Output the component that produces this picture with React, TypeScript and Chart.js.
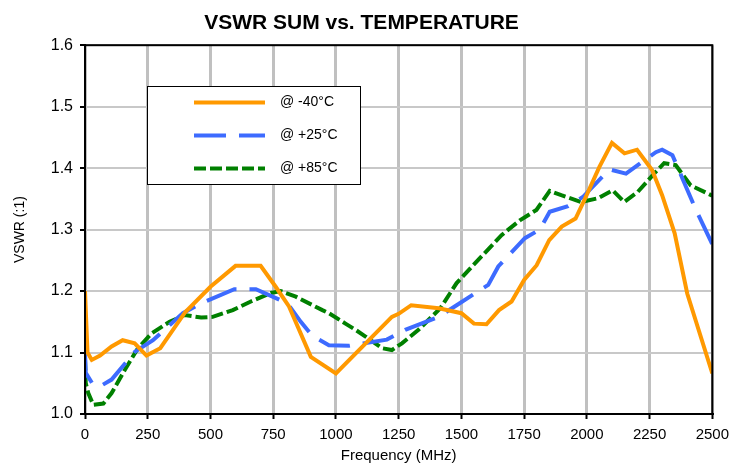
import React, { useEffect, useRef } from "react";
import { Chart, registerables } from "chart.js";
Chart.register(...registerables);

const TITLE = "VSWR SUM vs. TEMPERATURE";
const X_TITLE = "Frequency (MHz)";
const Y_TITLE = "VSWR (:1)";
const SERIES_LABELS = ["@ -40°C", "@ +25°C", "@ +85°C"];

const freqM40 = [0, 10, 27, 60, 106, 150, 198, 245, 300, 400, 500, 600, 700, 760, 813, 900, 1000, 1223, 1250, 1300, 1410, 1500, 1550, 1600, 1650, 1700, 1750, 1800, 1850, 1900, 1955, 1990, 2050, 2100, 2150, 2200, 2260, 2300, 2350, 2400, 2500];
const vswrM40 = [1.2, 1.1, 1.088, 1.095, 1.11, 1.12, 1.115, 1.095, 1.107, 1.166, 1.207, 1.241, 1.241, 1.207, 1.175, 1.093, 1.066, 1.158, 1.163, 1.177, 1.172, 1.164, 1.147, 1.146, 1.169, 1.183, 1.218, 1.242, 1.283, 1.305, 1.318, 1.348, 1.402, 1.441, 1.424, 1.43, 1.397, 1.356, 1.294, 1.196, 1.066];

const freqP25 = [0, 3, 33, 60, 106, 198, 271, 390, 463, 595, 681, 807, 860, 906, 972, 1052, 1203, 1276, 1409, 1481, 1607, 1647, 1753, 1812, 1852, 1925, 1984, 2090, 2156, 2275, 2300, 2341, 2401, 2434, 2500];
const vswrP25 = [1.1, 1.067, 1.047, 1.045, 1.056, 1.101, 1.12, 1.164, 1.18, 1.203, 1.203, 1.18, 1.15, 1.127, 1.112, 1.111, 1.121, 1.137, 1.158, 1.177, 1.21, 1.24, 1.286, 1.3, 1.329, 1.338, 1.353, 1.398, 1.391, 1.426, 1.43, 1.421, 1.364, 1.333, 1.276];

const freqP85 = [0, 3, 13, 33, 73, 106, 159, 211, 265, 337, 397, 463, 509, 589, 661, 741, 780, 840, 946, 972, 1038, 1078, 1118, 1184, 1223, 1263, 1329, 1416, 1481, 1554, 1660, 1733, 1799, 1852, 1898, 1977, 2044, 2103, 2149, 2202, 2268, 2308, 2354, 2388, 2414, 2480, 2500];
const vswrP85 = [1.09, 1.05, 1.034, 1.015, 1.017, 1.034, 1.072, 1.107, 1.131, 1.15, 1.161, 1.157, 1.158, 1.169, 1.183, 1.197, 1.2, 1.191, 1.169, 1.164, 1.147, 1.137, 1.126, 1.107, 1.104, 1.115, 1.137, 1.172, 1.213, 1.245, 1.291, 1.315, 1.332, 1.363, 1.356, 1.345, 1.351, 1.364, 1.345, 1.361, 1.391, 1.408, 1.405, 1.386, 1.372, 1.359, 1.355];

const X_MIN = 0, X_MAX = 2500, X_STEP = 250;
const Y_MIN = 1.0, Y_MAX = 1.6, Y_STEP = 0.1;

const COLORS = ["#FF9900", "#3D6BFF", "#008000"];
const DASHES: number[][] = [[], [32, 13], [12, 4]];

const FONT = "'Liberation Sans', Arial, sans-serif";

const toPts = (xs: number[], ys: number[]) => xs.map((x, i) => ({ x, y: ys[i] }));

const frameAndLegend = {
  id: "frameAndLegend",
  afterDatasetsDraw(chart: any) {
    const { ctx, chartArea } = chart;
    ctx.save();
    ctx.strokeStyle = "#000";
    ctx.lineWidth = 2;
    ctx.strokeRect(chartArea.left, chartArea.top, chartArea.right - chartArea.left, chartArea.bottom - chartArea.top);
    // legend box
    const bx = 147.5, by = 86.5, bw = 213, bh = 98;
    ctx.fillStyle = "#fff";
    ctx.fillRect(bx, by, bw, bh);
    ctx.lineWidth = 1;
    ctx.strokeRect(bx, by, bw, bh);
    const rows = [102.5, 135.5, 168.5];
    ctx.font = `14px ${FONT}`;
    ctx.textBaseline = "middle";
    rows.forEach((yy, i) => {
      ctx.beginPath();
      ctx.strokeStyle = COLORS[i];
      ctx.lineWidth = 4;
      ctx.setLineDash(DASHES[i]);
      ctx.moveTo(194, yy);
      ctx.lineTo(265, yy);
      ctx.stroke();
      ctx.setLineDash([]);
      ctx.fillStyle = "#000";
      ctx.fillText(SERIES_LABELS[i], 280, yy);
    });
    ctx.restore();
  },
};

export default function App() {
  const ref = useRef<HTMLCanvasElement>(null);
  useEffect(() => {
    document.body.style.margin = "0";
    const chart = new Chart(ref.current!, {
      type: "line",
      data: {
        datasets: [
          { label: SERIES_LABELS[0], data: toPts(freqM40, vswrM40), borderColor: COLORS[0], borderWidth: 4, borderDash: DASHES[0], pointRadius: 0, tension: 0, fill: false },
          { label: SERIES_LABELS[1], data: toPts(freqP25, vswrP25), borderColor: COLORS[1], borderWidth: 4, borderDash: DASHES[1], pointRadius: 0, tension: 0, fill: false },
          { label: SERIES_LABELS[2], data: toPts(freqP85, vswrP85), borderColor: COLORS[2], borderWidth: 4, borderDash: DASHES[2], pointRadius: 0, tension: 0, fill: false },
        ],
      },
      options: {
        animation: false,
        responsive: false,
        layout: { padding: { left: 8, right: 21, top: 0, bottom: 0 } },
        plugins: {
          legend: { display: false },
          tooltip: { enabled: false },
          title: {
            display: true,
            text: TITLE,
            color: "#000",
            font: { family: FONT, size: 21, weight: "bold", lineHeight: 1.2 },
            padding: { top: 11, bottom: 9 },
          },
        },
        scales: {
          x: {
            type: "linear",
            min: X_MIN,
            max: X_MAX,
            afterFit: (s: any) => { s.height = 52; },
            ticks: { stepSize: X_STEP, color: "#000", font: { family: FONT, size: 15 }, padding: 7, maxRotation: 0, callback: (v: any) => String(v) },
            grid: { color: "#C0C0C0", lineWidth: 3, tickColor: "#000", tickLength: 5, tickWidth: 2 },
            border: { color: "#000", width: 2 },
            title: { display: true, text: X_TITLE, color: "#000", font: { family: FONT, size: 15 }, padding: { top: 0, bottom: 1 } },
          },
          y: {
            type: "linear",
            min: Y_MIN,
            max: Y_MAX,
            afterFit: (s: any) => { s.width = 77; },
            ticks: { stepSize: Y_STEP, color: "#000", font: { family: FONT, size: 16 }, padding: 7, callback: (v: any) => Number(v).toFixed(1) },
            grid: { color: "#C8C8C8", lineWidth: 2, tickColor: "#000", tickLength: 5, tickWidth: 2 },
            border: { color: "#000", width: 2 },
            title: { display: true, text: Y_TITLE, color: "#000", font: { family: FONT, size: 14 }, padding: { top: 4, bottom: 0 } },
          },
        },
      },
      plugins: [frameAndLegend],
    });
    return () => chart.destroy();
  }, []);
  return <canvas ref={ref} width={736} height={466} style={{ display: "block" }} />;
}
